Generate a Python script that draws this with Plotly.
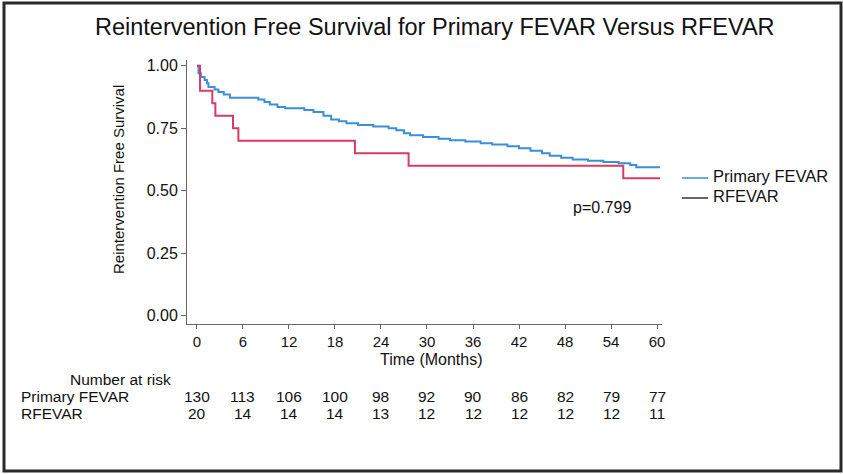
import plotly.graph_objects as go

# Kaplan-Meier step estimates (months, survival)
primary_t = [0, 0.2, 0.5, 1.0, 1.3, 1.5, 2.3, 2.8, 3.5, 4.3, 8.0, 8.8, 9.5, 10.5, 11.5,
             14.0, 15.2, 16.5, 17.5, 18.5, 19.5, 21.0, 23.0, 25.0, 26.0, 27.0, 27.8,
             29.5, 31.5, 33.0, 35.0, 37.0, 38.5, 40.5, 42.0, 43.5, 45.0, 46.0, 47.5,
             49.0, 51.0, 53.0, 55.0, 56.5, 57.3, 60.4]
primary_s = [1.0, 0.97, 0.955, 0.943, 0.93, 0.915, 0.905, 0.895, 0.885, 0.872, 0.865,
             0.855, 0.845, 0.835, 0.83, 0.823, 0.815, 0.80, 0.785, 0.778, 0.77, 0.763,
             0.757, 0.75, 0.742, 0.73, 0.722, 0.715, 0.708, 0.702, 0.697, 0.69, 0.685,
             0.678, 0.67, 0.66, 0.65, 0.64, 0.632, 0.625, 0.62, 0.615, 0.61, 0.603,
             0.594, 0.594]

rfevar_t = [0, 0.4, 2.0, 2.4, 4.7, 5.4, 20.6, 27.6, 55.6, 60.4]
rfevar_s = [1.0, 0.90, 0.85, 0.80, 0.75, 0.70, 0.65, 0.60, 0.55, 0.55]

# Number-at-risk table
risk_times = [0, 6, 12, 18, 24, 30, 36, 42, 48, 54, 60]
risk_primary = [130, 113, 106, 100, 98, 92, 90, 86, 82, 79, 77]
risk_rfevar = [20, 14, 14, 14, 13, 12, 12, 12, 12, 12, 11]

group_names = ["Primary FEVAR", "RFEVAR"]
p_value_text = "p=0.799"

BLUE = "#3a8fd8"
RED = "#d63c66"
FONT = "Liberation Sans, Arial, sans-serif"

W, H = 843, 474
L, R, T, B = 187, 181, 60, 150
PW, PH = W - L - R, H - T - B


def px(x):
    return (x - L) / PW


def py(y):
    return (H - B - y) / PH


fig = go.Figure()
fig.add_trace(go.Scatter(x=primary_t, y=primary_s, mode="lines", line_shape="hv",
                         line=dict(color=BLUE, width=2), name=group_names[0],
                         showlegend=False))
fig.add_trace(go.Scatter(x=rfevar_t, y=rfevar_s, mode="lines", line_shape="hv",
                         line=dict(color=RED, width=2), name=group_names[1],
                         showlegend=False))

ann = []
# Title
ann.append(dict(text="Reintervention Free Survival for Primary FEVAR Versus RFEVAR",
                x=px(435), y=py(27), xref="paper", yref="paper", showarrow=False,
                xanchor="center", yanchor="middle", font=dict(size=23.5, color="#111")))
# Axis titles
ann.append(dict(text="Time (Months)", x=px(431), y=py(359), xref="paper", yref="paper",
                showarrow=False, xanchor="center", yanchor="middle",
                font=dict(size=16, color="#111")))
ann.append(dict(text="Reintervention Free Survival", x=px(118), y=py(180), xref="paper",
                yref="paper", showarrow=False, textangle=-90, xanchor="center",
                yanchor="middle", font=dict(size=15, color="#111")))
# p-value
ann.append(dict(text=p_value_text, x=52.8, y=0.434, xref="x", yref="y", showarrow=False,
                xanchor="center", yanchor="middle", font=dict(size=16, color="#111")))
# Legend
legend_rows = [(group_names[0], BLUE, 178, 176), (group_names[1], "#333333", 198, 196)]
shapes = []
for name, col, ly, ty in legend_rows:
    shapes.append(dict(type="line", xref="paper", yref="paper", x0=px(682), x1=px(708),
                       y0=py(ly), y1=py(ly), line=dict(color=col, width=1.5)))
    ann.append(dict(text=name, x=px(711), y=py(ty), xref="paper", yref="paper",
                    showarrow=False, xanchor="left", yanchor="middle",
                    font=dict(size=16.5, color="#111")))
# Risk table
ann.append(dict(text="Number at risk", x=px(68), y=py(379), xref="paper", yref="paper",
                showarrow=False, xanchor="left", yanchor="middle",
                font=dict(size=15.5, color="#111")))
for name, counts, ry in [(group_names[0], risk_primary, 396), (group_names[1], risk_rfevar, 413)]:
    ann.append(dict(text=name, x=px(19), y=py(ry), xref="paper", yref="paper",
                    showarrow=False, xanchor="left", yanchor="middle",
                    font=dict(size=15.5, color="#111")))
    for t, n in zip(risk_times, counts):
        ann.append(dict(text=str(n), x=t, y=py(ry), xref="x", yref="paper",
                        showarrow=False, xanchor="center", yanchor="middle",
                        font=dict(size=15.5, color="#111")))

# Outer frame
shapes.append(dict(type="rect", xref="paper", yref="paper", x0=px(4), x1=px(841),
                   y0=py(471), y1=py(3), line=dict(color="#2a2a2a", width=3)))

fig.update_layout(
    width=W, height=H,
    margin=dict(l=L, r=R, t=T, b=B),
    paper_bgcolor="white", plot_bgcolor="white",
    font=dict(family=FONT, size=16, color="#111"),
    annotations=ann, shapes=shapes, showlegend=False,
)
fig.update_xaxes(range=[-1.3, 60.65], tickvals=risk_times, showgrid=False, zeroline=False,
                 showline=True, linecolor="#666", linewidth=1, ticks="outside",
                 ticklen=4, tickcolor="#666", tickfont=dict(size=15))
fig.update_yaxes(range=[-0.033, 1.023], tickvals=[0, 0.25, 0.5, 0.75, 1.0],
                 ticktext=["0.00", "0.25", "0.50", "0.75", "1.00"], showgrid=False,
                 zeroline=False, showline=True, linecolor="#666", linewidth=1,
                 ticks="outside", ticklen=5, tickcolor="#666", tickfont=dict(size=16))

fig.write_html("out.html")
